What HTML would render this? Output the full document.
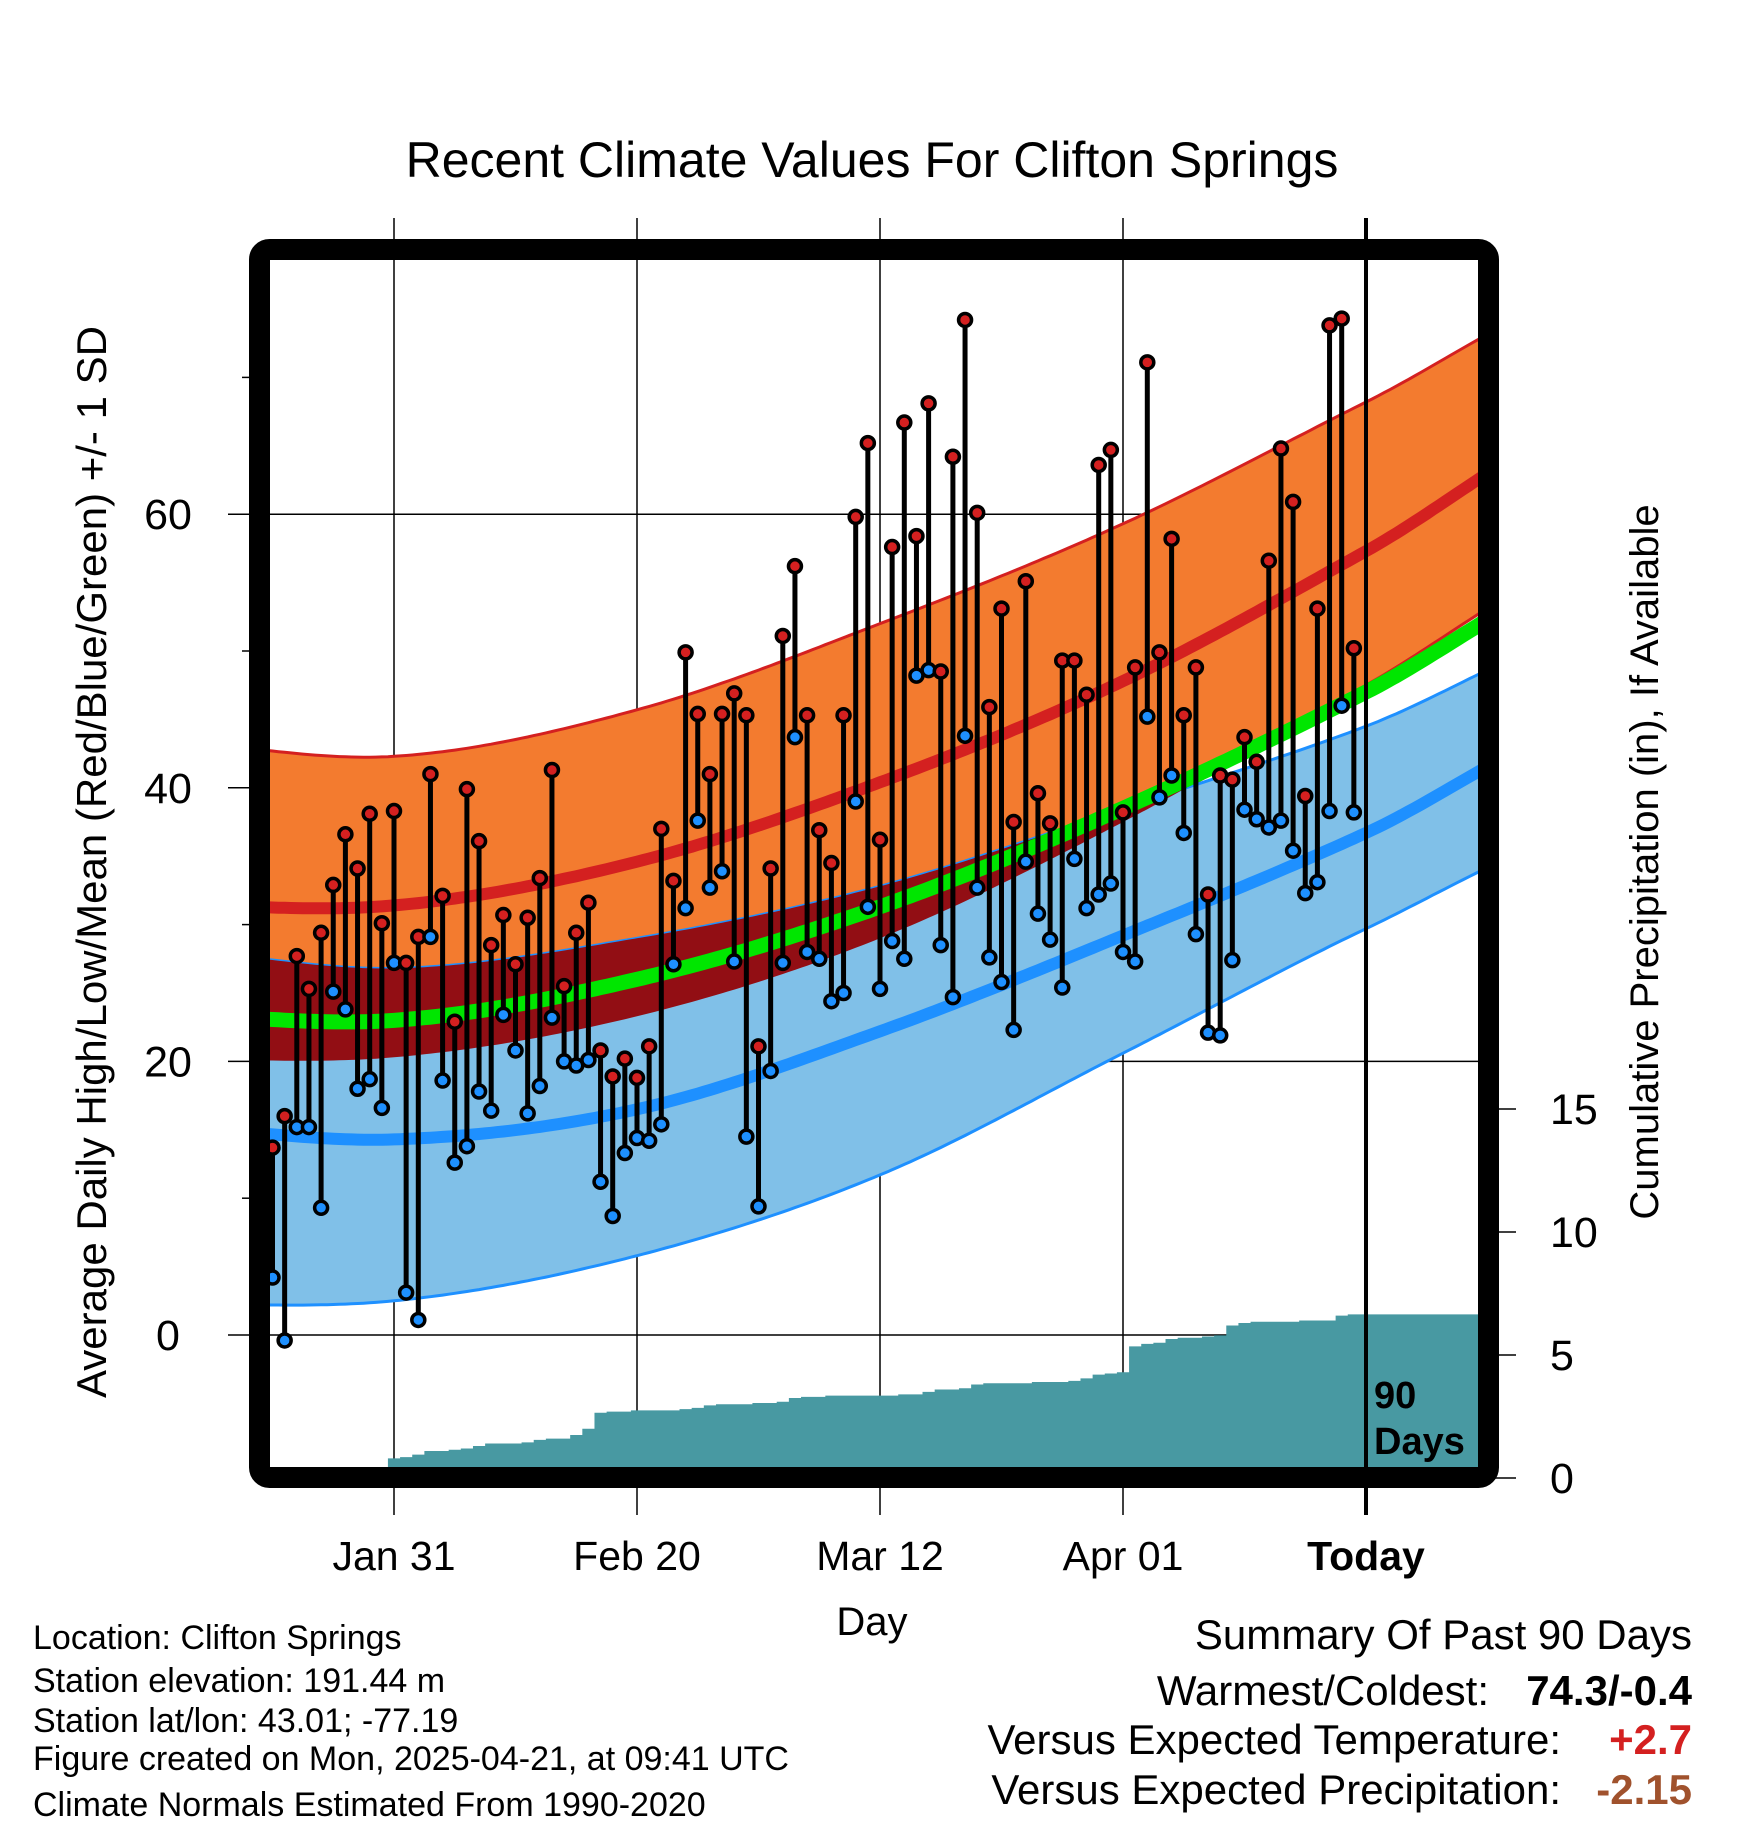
<!DOCTYPE html>
<html><head><meta charset="utf-8"><style>
html,body{margin:0;padding:0;background:#fff;}
svg{display:block;font-family:"Liberation Sans",sans-serif;}
</style></head><body>
<svg id="chart" width="1748" height="1828" viewBox="0 0 1748 1828" xmlns="http://www.w3.org/2000/svg">
<defs><clipPath id="plotclip"><rect x="270" y="260" width="1208" height="1207"/></clipPath></defs>
<text x="872" y="177" font-size="50" text-anchor="middle">Recent Climate Values For Clifton Springs</text>
<g id="gridg"></g>
<g id="plotg" clip-path="url(#plotclip)"></g>
<g id="axesg"></g>
<rect x="259.5" y="249.5" width="1229" height="1228" rx="10" fill="none" stroke="#000" stroke-width="21"/>
<text transform="translate(106,862) rotate(-90)" font-size="42" text-anchor="middle">Average Daily High/Low/Mean (Red/Blue/Green) +/- 1 SD</text>
<text transform="translate(1658,862) rotate(-90)" font-size="40" text-anchor="middle">Cumulative Precipitation (in), If Available</text>
<text x="872" y="1635" font-size="40" text-anchor="middle">Day</text>
<g font-size="34">
<text x="33" y="1649">Location: Clifton Springs</text>
<text x="33" y="1692">Station elevation: 191.44 m</text>
<text x="33" y="1732">Station lat/lon: 43.01; -77.19</text>
<text x="33" y="1770">Figure created on Mon, 2025-04-21, at 09:41 UTC</text>
<text x="33" y="1816">Climate Normals Estimated From 1990-2020</text>
</g>
<g font-size="42">
<text x="1692" y="1649" text-anchor="end">Summary Of Past 90 Days</text>
<text x="1489" y="1705" text-anchor="end">Warmest/Coldest:</text>
<text x="1692" y="1705" text-anchor="end" font-weight="bold">74.3/-0.4</text>
<text x="1561" y="1754" text-anchor="end">Versus Expected Temperature:</text>
<text x="1692" y="1754" text-anchor="end" font-weight="bold" fill="#d42020">+2.7</text>
<text x="1561" y="1804" text-anchor="end">Versus Expected Precipitation:</text>
<text x="1692" y="1804" text-anchor="end" font-weight="bold" fill="#a0522d">-2.15</text>
</g>
</svg>
<script>
const highs=[13.7,16,27.7,25.3,29.4,32.9,36.6,34.1,38.1,30.1,38.3,27.2,29.1,41,32.1,22.9,39.9,36.1,28.5,30.7,27.1,30.5,33.4,41.3,25.5,29.4,31.6,20.8,18.9,20.2,18.8,21.1,37,33.2,49.9,45.4,41,45.4,46.9,45.3,21.1,34.1,51.1,56.2,45.3,36.9,34.5,45.3,59.8,65.2,36.2,57.6,66.7,58.4,68.1,48.5,64.2,74.2,60.1,45.9,53.1,37.5,55.1,39.6,37.4,49.3,49.3,46.8,63.6,64.7,38.2,48.8,71.1,49.9,58.2,45.3,48.8,32.2,40.9,40.6,43.7,41.9,56.6,64.8,60.9,39.4,53.1,73.8,74.3,50.2];
const lows=[4.2,-0.4,15.2,15.2,9.3,25.1,23.8,18,18.7,16.6,27.2,3.1,1.1,29.1,18.6,12.6,13.8,17.8,16.4,23.4,20.8,16.2,18.2,23.2,20,19.7,20.1,11.2,8.7,13.3,14.4,14.2,15.4,27.1,31.2,37.6,32.7,33.9,27.3,14.5,9.4,19.3,27.2,43.7,28,27.5,24.4,25,39,31.3,25.3,28.8,27.5,48.2,48.6,28.5,24.7,43.8,32.7,27.6,25.8,22.3,34.6,30.8,28.9,25.4,34.8,31.2,32.2,33,28,27.3,45.2,39.3,40.9,36.7,29.3,22.1,21.9,27.4,38.4,37.7,37.1,37.6,35.4,32.3,33.1,38.3,46,38.2];
const precip=[0,0,0,0,0,0,0,0,0,0,0.8,0.85,0.95,1.1,1.1,1.15,1.2,1.3,1.4,1.4,1.4,1.45,1.55,1.6,1.6,1.75,2.0,2.65,2.7,2.7,2.75,2.75,2.75,2.75,2.8,2.85,2.95,3.0,3.0,3.0,3.05,3.05,3.1,3.25,3.3,3.3,3.35,3.35,3.35,3.35,3.35,3.35,3.4,3.4,3.5,3.6,3.6,3.65,3.8,3.85,3.85,3.85,3.85,3.9,3.9,3.9,3.95,4.05,4.2,4.25,4.3,5.35,5.45,5.5,5.65,5.7,5.7,5.75,5.8,6.2,6.3,6.35,6.35,6.35,6.35,6.4,6.4,6.4,6.6,6.65];
const normDays=[-10,10,30,50,70,90,110];
const highMean=[31.5,31.4,34.6,40.4,47.8,57.3,67.5];
const highUpper=[43.5,42.3,45.7,52.0,59.3,68.2,77.0];
const highLower=[20.2,20.3,23.3,29.0,37.5,47.5,57.5];
const lowUpper=[28.3,26.8,29.0,32.8,38.5,44.5,52.0];
const lowMean=[15.3,14.3,16.5,22.2,29.2,36.7,45.5];
const lowLower=[2.3,2.5,5.8,11.7,20.6,29.7,37.5];
const avgMean=[23.5,23.0,26.0,31.3,38.5,47.0,56.5];
const tempTicks=[0,20,40,60];
const tempMinor=[10,30,50,70];
const precipTicks=[0,5,10,15];
const dateLabels=["Jan 31","Feb 20","Mar 12","Apr 01","Today"];
const dateDays=[10,30,50,70,90];

const NS="http://www.w3.org/2000/svg";
const X=d=>272.5+d*12.15;
const Y=v=>1335-v*13.68;
const PY=v=>1478-v*24.6;
function mk(tag,attrs,parent){const e=document.createElementNS(NS,tag);for(const k in attrs)e.setAttribute(k,attrs[k]);parent.appendChild(e);return e;}
function interp(arr,d){
  let i=0;while(i<normDays.length-2&&d>normDays[i+1])i++;
  const t=(d-normDays[i])/(normDays[i+1]-normDays[i]);
  const p0=arr[Math.max(i-1,0)],p1=arr[i],p2=arr[i+1],p3=arr[Math.min(i+2,arr.length-1)];
  const t2=t*t,t3=t2*t;
  return 0.5*((2*p1)+(-p0+p2)*t+(2*p0-5*p1+4*p2-p3)*t2+(-p0+3*p1-3*p2+p3)*t3);
}
function curve(arr){const pts=[];for(let d=-1;d<=100;d+=0.5)pts.push([X(d),Y(interp(arr,d))]);return pts;}
function bandPath(up,lo){const a=curve(up),b=curve(lo).reverse();return "M"+a.concat(b).map(p=>p[0].toFixed(1)+","+p[1].toFixed(1)).join("L")+"Z";}
function linePath(arr){return "M"+curve(arr).map(p=>p[0].toFixed(1)+","+p[1].toFixed(1)).join("L");}

const grid=document.getElementById('gridg');
const plot=document.getElementById('plotg');
const axes=document.getElementById('axesg');

let e=mk('path',{d:bandPath(highUpper,highLower),fill:'#f37b2f',stroke:'#d42020','stroke-width':3},plot);


e=mk('path',{d:bandPath(lowUpper,lowLower),fill:'#80c0e8',stroke:'#1e90ff','stroke-width':3},plot);


const defs=document.querySelector('defs');
const cp=mk('clipPath',{id:'lowclip'},defs);
mk('path',{d:bandPath(lowUpper,lowLower)},cp);
e=mk('path',{d:bandPath(highUpper,highLower),fill:'#920e14','clip-path':'url(#lowclip)'},plot);


e=mk('path',{d:linePath(avgMean),fill:'none',stroke:'#00e600','stroke-width':15},plot);


e=mk('path',{d:linePath(highMean),fill:'none',stroke:'#d42020','stroke-width':12},plot);


e=mk('path',{d:linePath(lowMean),fill:'none',stroke:'#1e90ff','stroke-width':12},plot);



tempTicks.forEach(v=>{
  let l=mk('line',{x1:228,x2:1478,y1:Y(v),y2:Y(v),stroke:'#000','stroke-width':1.5},grid);
  
  
  let t=mk('text',{x:168,y:Y(v)+15,'font-size':43,'text-anchor':'middle'},axes);
  t.textContent=v;
  
  
});
tempMinor.forEach(v=>{
  let l=mk('line',{x1:242,x2:252,y1:Y(v),y2:Y(v),stroke:'#000','stroke-width':1.5},grid);
  
  
});
dateDays.forEach((d,i)=>{
  const today=i===dateDays.length-1;
  let l=mk('line',{x1:X(d),x2:X(d),y1:218,y2:1515,stroke:'#000','stroke-width':today?4:1.5},today?axes:grid);
  
  
  let t=mk('text',{x:X(d),y:1570,'font-size':41,'text-anchor':'middle','font-weight':today?'bold':'normal'},axes);
  t.textContent=dateLabels[i];
  
  
});
precipTicks.forEach(v=>{
  let l=mk('line',{x1:1488,x2:1516,y1:PY(v),y2:PY(v),stroke:'#000','stroke-width':1.5},axes);
  
  
  let t=mk('text',{x:1550,y:PY(v)+15,'font-size':43,'text-anchor':'start'},axes);
  t.textContent=v;
  
  
});
let pd="M"+X(-0.5)+","+PY(0);
precip.forEach((v,i)=>{pd+="L"+X(i-0.5)+","+PY(v)+"L"+X(i+0.5)+","+PY(v);});
pd+="L1480,"+PY(precip[precip.length-1])+"L1480,"+PY(0)+"Z";
e=mk('path',{d:pd,fill:'#4899a2'},plot);


let t1=mk('text',{x:1374,y:1408,'font-size':38,'font-weight':'bold'},axes);
t1.textContent='90';


let t2=mk('text',{x:1374,y:1454,'font-size':38,'font-weight':'bold'},axes);
t2.textContent='Days';


highs.forEach((h,i)=>{
  const x=X(i),lo=lows[i];
  let s=mk('line',{x1:x,x2:x,y1:Y(h),y2:Y(lo),stroke:'#000','stroke-width':5},axes);
  
  
  let c1=mk('circle',{cx:x,cy:Y(h),r:6.5,fill:'#d42020',stroke:'#000','stroke-width':3.5},axes);
  
  
  let c2=mk('circle',{cx:x,cy:Y(lo),r:6.5,fill:'#1e90ff',stroke:'#000','stroke-width':3.5},axes);
  
  
});
</script>
</body></html>
